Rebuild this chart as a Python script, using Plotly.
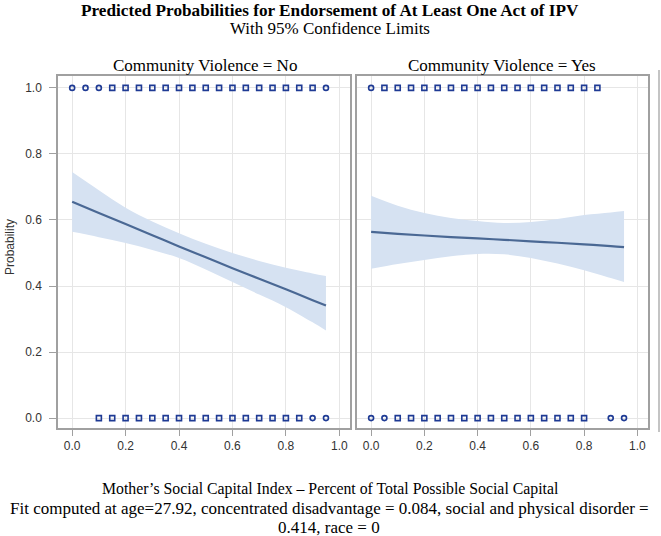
import plotly.graph_objects as go

# fitted curve + 95% limits, Community Violence = No
no_x = [0.0, 0.1, 0.2, 0.3, 0.4, 0.5, 0.6, 0.7, 0.8, 0.9, 0.95]
no_fit = [0.655, 0.621, 0.588, 0.554, 0.52, 0.487, 0.454, 0.422, 0.39, 0.357, 0.341]
no_upper = [0.745, 0.69, 0.637, 0.595, 0.56, 0.528, 0.50, 0.476, 0.455, 0.438, 0.43]
no_lower = [0.564, 0.548, 0.53, 0.509, 0.485, 0.45, 0.412, 0.374, 0.336, 0.29, 0.265]

# Community Violence = Yes
yes_x = [0.0, 0.1, 0.2, 0.3, 0.4, 0.5, 0.6, 0.7, 0.8, 0.9, 0.95]
yes_fit = [0.564, 0.558, 0.553, 0.548, 0.544, 0.54, 0.535, 0.531, 0.526, 0.521, 0.518]
yes_upper = [0.673, 0.643, 0.621, 0.606, 0.597, 0.591, 0.594, 0.603, 0.615, 0.623, 0.627]
yes_lower = [0.452, 0.467, 0.479, 0.49, 0.497, 0.496, 0.485, 0.468, 0.448, 0.424, 0.412]

# observed outcomes (0/1) by social capital value
no_obs1_x = [0.0, 0.05, 0.1, 0.15, 0.2, 0.25, 0.3, 0.35, 0.4, 0.45, 0.5, 0.55, 0.6, 0.65, 0.7, 0.75, 0.8, 0.85, 0.9, 0.95]
no_obs1_sym = ["circle-open"] * 3 + ["square-open"] * 16 + ["circle-open"]
no_obs0_x = [0.1, 0.15, 0.2, 0.25, 0.3, 0.35, 0.4, 0.45, 0.5, 0.55, 0.6, 0.65, 0.7, 0.75, 0.8, 0.85, 0.9, 0.95]
no_obs0_sym = ["square-open"] * 16 + ["circle-open"] * 2
yes_obs1_x = [0.0, 0.05, 0.1, 0.15, 0.2, 0.25, 0.3, 0.35, 0.4, 0.45, 0.5, 0.55, 0.6, 0.65, 0.7, 0.75, 0.8, 0.85]
yes_obs1_sym = ["circle-open"] + ["square-open"] * 17
yes_obs0_x = [0.0, 0.05, 0.1, 0.15, 0.2, 0.25, 0.3, 0.35, 0.4, 0.45, 0.5, 0.55, 0.6, 0.65, 0.7, 0.75, 0.8, 0.9, 0.95]
yes_obs0_sym = ["circle-open"] * 2 + ["square-open"] * 15 + ["circle-open"] * 2

tick_vals = [0.0, 0.2, 0.4, 0.6, 0.8, 1.0]

BAND = "#D6E2F2"
LINE = "#4A6894"
MARK = "#1E3A94"

W, H = 661, 536


def px(x):
    return x / W


def py(y):
    return 1 - y / H


fig = go.Figure()


def add_panel(xa, ya, x, fit, up, lo, o1x, o1s, o0x, o0s):
    fig.add_trace(go.Scatter(x=x, y=lo, xaxis=xa, yaxis=ya, mode="lines",
                             line=dict(width=0, shape="spline"), hoverinfo="skip"))
    fig.add_trace(go.Scatter(x=x, y=up, xaxis=xa, yaxis=ya, mode="lines",
                             line=dict(width=0, shape="spline"), fill="tonexty",
                             fillcolor=BAND))
    fig.add_trace(go.Scatter(x=x, y=fit, xaxis=xa, yaxis=ya, mode="lines",
                             line=dict(color=LINE, width=2.2, shape="spline")))
    fig.add_trace(go.Scatter(x=o1x, y=[1] * len(o1x), xaxis=xa, yaxis=ya, mode="markers",
                             marker=dict(symbol=o1s, size=5, color=MARK, line=dict(width=1.6))))
    fig.add_trace(go.Scatter(x=o0x, y=[0] * len(o0x), xaxis=xa, yaxis=ya, mode="markers",
                             marker=dict(symbol=o0s, size=5, color=MARK, line=dict(width=1.6))))


add_panel("x", "y", no_x, no_fit, no_upper, no_lower, no_obs1_x, no_obs1_sym, no_obs0_x, no_obs0_sym)
add_panel("x2", "y2", yes_x, yes_fit, yes_upper, yes_lower, yes_obs1_x, yes_obs1_sym, yes_obs0_x, yes_obs0_sym)

tickfont = dict(family="Arial, Liberation Sans", size=12, color="#333333")
xcommon = dict(range=[-0.053, 1.04], tickvals=tick_vals, ticktext=["0.0", "0.2", "0.4", "0.6", "0.8", "1.0"],
               showgrid=True, gridcolor="#E6E6E6", zeroline=False, showline=True, linecolor="#A0A0A0",
               linewidth=1.5, mirror=True, ticks="outside", ticklen=6, tickcolor="#A0A0A0",
               tickfont=tickfont)
ycommon = dict(range=[-0.03, 1.036], tickvals=tick_vals, showgrid=True, gridcolor="#E6E6E6",
               zeroline=False, showline=True, linecolor="#A0A0A0", linewidth=1.5, mirror=True,
               tickfont=tickfont)

fig.update_layout(
    width=W, height=H,
    margin=dict(l=0, r=0, t=0, b=0),
    paper_bgcolor="white", plot_bgcolor="white",
    showlegend=False,
    xaxis=dict(domain=[px(58), px(350)], anchor="y", **xcommon),
    xaxis2=dict(domain=[px(357), px(648)], anchor="y2", **xcommon),
    yaxis=dict(domain=[py(428), py(76)], anchor="x", ticks="outside", ticklen=7, tickcolor="#A0A0A0",
               tickformat=".1f", ticklabelstandoff=5, **ycommon),
    yaxis2=dict(domain=[py(428), py(76)], anchor="x2", showticklabels=False, **ycommon),
)

serif = "Times New Roman, Liberation Serif, serif"
notes = [
    (330, 10, "<b>Predicted Probabilities for Endorsement of At Least One Act of IPV</b>", 17.2),
    (330, 29, "With 95% Confidence Limits", 17),
    (205, 66, "Community Violence = No", 17),
    (502, 66, "Community Violence = Yes", 17),
    (330, 489, "Mother\u2019s Social Capital Index \u2013 Percent of Total Possible Social Capital", 15.8),
    (329, 508, "Fit computed at age=27.92, concentrated disadvantage = 0.084, social and physical disorder =", 17),
    (329, 527, "0.414, race = 0", 17),
]
for x, y, t, s in notes:
    fig.add_annotation(x=px(x), y=py(y), xref="paper", yref="paper", text=t, showarrow=False,
                       xanchor="center", yanchor="middle", font=dict(family=serif, size=s, color="black"))

fig.add_annotation(x=px(10), y=py(247), xref="paper", yref="paper", text="Probability", showarrow=False,
                   textangle=-90, xanchor="center", yanchor="middle",
                   font=dict(family="Arial, Liberation Sans", size=12, color="#333333"))

fig.add_shape(type="line", xref="paper", yref="paper", x0=px(659), x1=px(659), y0=py(432), y1=py(70),
              line=dict(color="#B0B0B0", width=1.5))

# drop the page's default body margin so the figure sits at the top-left corner
fig.write_html("out.html", config={"displayModeBar": False},
               post_script="document.body.style.margin='0';")
